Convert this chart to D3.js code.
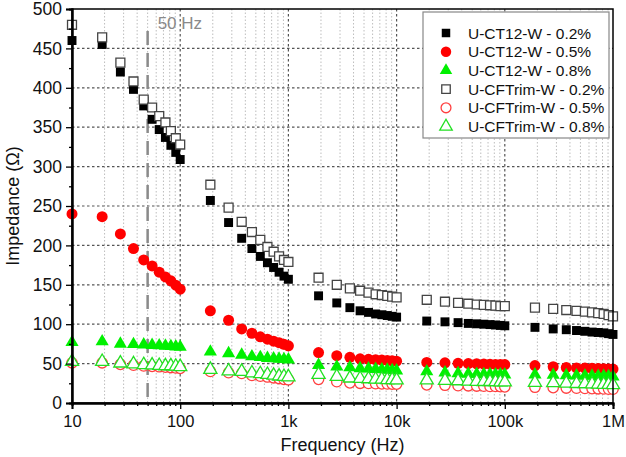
<!DOCTYPE html>
<html>
<head>
<meta charset="utf-8">
<script src="https://cdn.jsdelivr.net/npm/d3@7/dist/d3.min.js"></script>
<style>
  html, body { margin: 0; padding: 0; background: #fff; }
  svg { display: block; font-family: "Liberation Sans", Arial, sans-serif; }
</style>
</head>
<body>
<svg id="chart" width="626" height="457"></svg>
<script>
// ---- Data ----
const frequencies = [
  10, 19, 28, 37, 46, 55, 64, 73, 82, 91, 100,
  190, 280, 370, 460, 550, 640, 730, 820, 910, 1000,
  1900, 2800, 3700, 4600, 5500, 6400, 7300, 8200, 9100, 10000,
  19000, 28000, 37000, 46000, 55000, 64000, 73000, 82000, 91000, 100000,
  190000, 280000, 370000, 460000, 550000, 640000, 730000, 820000, 910000, 1000000
];

const ct12_02 = [
  460, 455, 420, 398, 377, 360, 347, 337, 327, 318, 309,
  257, 229, 209, 196, 186, 178, 172, 166, 161, 157,
  136, 127, 121, 117, 115, 113, 112, 111, 110, 109,
  104, 103, 102, 101, 100.5, 100, 99.5, 99, 98.5, 98,
  96, 94, 93, 92, 91, 90, 89.5, 89, 88, 87
];
const ct12_05 = [
  240, 236.5, 214.5, 196, 181.5, 174, 166, 160, 155, 149.5, 144.5,
  117, 105, 94, 88.5, 84, 81, 78.5, 76.5, 74.5, 72.5,
  64, 60, 58, 56, 55.5, 55, 54.5, 54, 53.5, 53,
  51.5, 51, 50.3, 50, 49.8, 49.5, 49.3, 49, 49, 48.8,
  47.5, 46, 45, 44.5, 44.3, 44, 43.8, 43.5, 43.3, 43
];
const ct12_08 = [
  77, 78, 75, 74.5, 74, 73.5, 73, 72.5, 72, 71.5, 71,
  65, 63, 61, 59, 58, 57, 56.5, 56, 55.5, 55,
  48, 46, 45, 44, 43.5, 43, 42.5, 42, 41.5, 41,
  40, 38.5, 37.5, 37, 36.8, 36.5, 36.3, 36.2, 36, 36,
  36, 35.5, 35, 34.8, 34.5, 34.3, 34, 34, 33.8, 33.5
];
const cft_02 = [
  480, 464, 432, 408, 385, 375, 364, 356, 345, 336, 328,
  277, 248, 230, 217, 207, 198, 192, 186, 181.5, 179,
  159, 150, 145.5, 142.5, 140, 138, 137, 136, 135, 134,
  131, 128.5, 127, 126, 125, 124.5, 124, 123.5, 123, 123,
  121, 119.5, 118, 117, 116, 115, 114, 113, 111.5, 110
];
const cft_05 = [
  51, 51, 49, 48, 47, 46.5, 46, 45.5, 45, 44.5, 44,
  40, 38.5, 37.5, 35, 34, 33, 32, 31, 30, 29.5,
  30, 27, 25.5, 25, 24.8, 24.5, 24.3, 24.2, 24, 24,
  23, 22.5, 22, 21.8, 21.5, 21.3, 21, 21, 20.8, 20.5,
  20, 19.5, 19, 18.8, 18.5, 18.3, 18, 17.8, 17.5, 17.5
];
const cft_08 = [
  52.5, 52.5, 50.5, 49.5, 48.5, 48, 47.5, 47, 47, 46.5, 46,
  42.5, 40.5, 40, 38, 37, 36, 35, 34, 33.5, 33,
  36, 33.5, 31.5, 31, 30.5, 30, 30, 29.5, 29.5, 29,
  29, 28.5, 28, 27.5, 27.3, 27, 27, 26.8, 26.5, 26.5,
  26, 25.5, 25, 24.5, 24.3, 24, 23.8, 23.5, 23.3, 23
];

const seriesNames = [
  "U-CT12-W - 0.2%", "U-CT12-W - 0.5%", "U-CT12-W - 0.8%",
  "U-CFTrim-W - 0.2%", "U-CFTrim-W - 0.5%", "U-CFTrim-W - 0.8%"
];

const yTicks = [0, 50, 100, 150, 200, 250, 300, 350, 400, 450, 500];
const yMinorTicks = [25, 75, 125, 175, 225, 275, 325, 375, 425, 475];
const xTicks = [10, 100, 1000, 10000, 100000, 1000000];
const xTickLabels = ["10", "100", "1k", "10k", "100k", "1M"];
const markerFreq = 50;
const markerLabel = "50 Hz";

// ---- Series styles ----
const seriesDefs = [
  { name: seriesNames[0], values: ct12_02, shape: d3.symbolSquare, size: 80, fill: "#000", stroke: "none" },
  { name: seriesNames[1], values: ct12_05, shape: d3.symbolCircle, size: 95, fill: "#ff0000", stroke: "none" },
  { name: seriesNames[2], values: ct12_08, shape: d3.symbolTriangle, size: 75, fill: "#00f000", stroke: "none" },
  { name: seriesNames[3], values: cft_02, shape: d3.symbolSquare, size: 80, fill: "#fff", stroke: "#444" },
  { name: seriesNames[4], values: cft_05, shape: d3.symbolCircle, size: 85, fill: "#fff", stroke: "#ff4040" },
  { name: seriesNames[5], values: cft_08, shape: d3.symbolTriangle, size: 75, fill: "#fff", stroke: "#22e022" }
];

// ---- Layout ----
const svg = d3.select("#chart");
const L = 72, R = 613, T = 9, B = 403;

const x = d3.scaleLog().domain([10, 1e6]).range([L, R]);
const y = d3.scaleLinear().domain([0, 500]).range([B, T]);

// minor x positions
const xMinor = [];
for (let p = 1; p <= 5; p++) {
  for (let k = 2; k <= 9; k++) xMinor.push(k * Math.pow(10, p));
}

// grid
const grid = svg.append("g");
grid.selectAll(".vminor").data(xMinor).enter().append("line")
  .attr("x1", d => x(d)).attr("x2", d => x(d))
  .attr("y1", T).attr("y2", B)
  .attr("stroke", "#bdbdbd").attr("stroke-width", 1).attr("stroke-dasharray", "1.5,2");
grid.selectAll(".vmajor").data(xTicks.slice(1, -1)).enter().append("line")
  .attr("x1", d => x(d)).attr("x2", d => x(d))
  .attr("y1", T).attr("y2", B)
  .attr("stroke", "#555").attr("stroke-width", 1.2).attr("stroke-dasharray", "2.5,2.5");
grid.selectAll(".hmajor").data(yTicks.slice(1, -1)).enter().append("line")
  .attr("x1", L).attr("x2", R)
  .attr("y1", d => y(d)).attr("y2", d => y(d))
  .attr("stroke", "#555").attr("stroke-width", 1.2).attr("stroke-dasharray", "2.5,2.5");

// 50 Hz line
svg.append("line")
  .attr("x1", x(markerFreq)).attr("x2", x(markerFreq))
  .attr("y1", 31).attr("y2", B)
  .attr("stroke", "#8a8a8a").attr("stroke-width", 2.5).attr("stroke-dasharray", "14,8");
svg.append("text")
  .attr("x", x(markerFreq) + 10).attr("y", 29)
  .attr("fill", "#8a8a8a").attr("font-size", 17)
  .text(markerLabel);

// series
const sym = d3.symbol();
seriesDefs.forEach(s => {
  svg.append("g").selectAll("path").data(s.values).enter().append("path")
    .attr("d", sym.type(s.shape).size(s.size)())
    .attr("transform", (v, i) => `translate(${x(frequencies[i])},${y(v)})`)
    .attr("fill", s.fill)
    .attr("stroke", s.stroke)
    .attr("stroke-width", s.stroke === "none" ? 0 : 1.3);
});

// frame
svg.append("rect").attr("x", L).attr("y", T).attr("width", R - L).attr("height", B - T)
  .attr("fill", "none").attr("stroke", "#000").attr("stroke-width", 1.5);

// axes
const yAxis = svg.append("g").attr("transform", `translate(${L},0)`)
  .call(d3.axisLeft(y).tickValues(yTicks).tickSize(6).tickPadding(4));
const yMinorAxis = svg.append("g").attr("transform", `translate(${L},0)`)
  .call(d3.axisLeft(y).tickValues(yMinorTicks).tickSize(3).tickFormat(""));
const xAxis = svg.append("g").attr("transform", `translate(0,${B})`)
  .call(d3.axisBottom(x).tickValues(xTicks).tickSize(6).tickPadding(6)
    .tickFormat((d, i) => xTickLabels[i]));
const xMinorAxis = svg.append("g").attr("transform", `translate(0,${B})`)
  .call(d3.axisBottom(x).tickValues(xMinor).tickSize(3).tickFormat(""));

[yAxis, yMinorAxis, xAxis, xMinorAxis].forEach(g => {
  g.select(".domain").attr("stroke", "#000").attr("stroke-width", 2);
  g.selectAll(".tick line").attr("stroke", "#000").attr("stroke-width", 1.3);
  g.selectAll("text").attr("font-family", "Liberation Sans, Arial, sans-serif")
    .attr("font-size", 16.5).attr("fill", "#111");
});
yAxis.selectAll("text").attr("font-size", 17.5);

// axis titles
svg.append("text")
  .attr("x", (L + R) / 2).attr("y", 451)
  .attr("text-anchor", "middle").attr("font-size", 18).attr("fill", "#111")
  .text("Frequency (Hz)");
svg.append("text")
  .attr("transform", `translate(19,${(T + B) / 2}) rotate(-90)`)
  .attr("text-anchor", "middle").attr("font-size", 18).attr("fill", "#111")
  .text("Impedance (Ω)");

// legend
const lg = svg.append("g");
lg.append("rect").attr("x", 423).attr("y", 12).attr("width", 186).attr("height", 126)
  .attr("fill", "#fff").attr("stroke", "#888").attr("stroke-width", 1.2);
seriesDefs.forEach((s, i) => {
  const yy = 33 + i * 18.7;
  lg.append("path")
    .attr("d", sym.type(s.shape).size(s.size * 0.9)())
    .attr("transform", `translate(446,${yy})`)
    .attr("fill", s.fill).attr("stroke", s.stroke)
    .attr("stroke-width", s.stroke === "none" ? 0 : 1.3);
  lg.append("text").attr("x", 468).attr("y", yy + 5.5)
    .attr("font-size", 15.5).attr("fill", "#111").text(s.name);
});
</script>
</body>
</html>
